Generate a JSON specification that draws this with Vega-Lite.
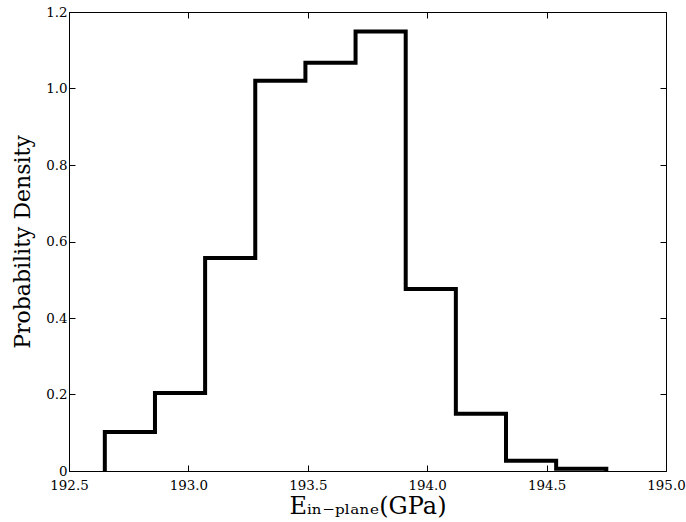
{
  "$schema": "https://vega.github.io/schema/vega-lite/v6.json",
  "autosize": "none",
  "padding": {"left": 69, "top": 12, "right": 20, "bottom": 52},
  "width": 597,
  "height": 459,
  "background": "white",
  "config": {
    "view": {"stroke": null},
    "axis": {"font": "DejaVu Serif", "labelFont": "DejaVu Serif", "titleFont": "DejaVu Serif", "grid": false, "domainColor": "black", "tickColor": "black", "labelColor": "black", "titleColor": "black", "titleFontWeight": "normal", "labelFontSize": 13.4, "titleFontSize": 22, "tickSize": -6, "domainWidth": 1}
  },
  "data": {"values": [
    {"edge": 192.65, "density": 0},
    {"edge": 192.86, "density": 0.102},
    {"edge": 193.07, "density": 0.204},
    {"edge": 193.28, "density": 0.557},
    {"edge": 193.49, "density": 1.02},
    {"edge": 193.70, "density": 1.067},
    {"edge": 193.91, "density": 1.149},
    {"edge": 194.12, "density": 0.476},
    {"edge": 194.33, "density": 0.150},
    {"edge": 194.54, "density": 0.027},
    {"edge": 194.75, "density": 0.006},
    {"edge": 194.75, "density": 0}
  ]},
  "layer": [
    {
      "mark": {"type": "line", "interpolate": "step-before", "color": "black", "strokeWidth": 4, "strokeJoin": "miter", "strokeCap": "butt", "clip": true},
      "encoding": {
        "x": {"field": "edge", "type": "quantitative", "scale": {"domain": [192.5, 195.0], "nice": false, "zero": false},
          "axis": {"orient": "bottom", "values": [192.5, 193.0, 193.5, 194.0, 194.5, 195.0], "format": ".1f", "title": "Eᵢₙ₋ₚₗₐₙₑ(GPa)", "titleFontSize": 24, "labelPadding": 13, "titlePadding": 3, "labelFlush": false}},
        "y": {"field": "density", "type": "quantitative", "scale": {"domain": [0, 1.2], "nice": false},
          "axis": {"orient": "left", "values": [0, 0.2, 0.4, 0.6, 0.8, 1.0, 1.2], "labelExpr": "datum.value == 0 ? '0' : format(datum.value, '.1f')", "title": "Probability Density", "labelPadding": 8, "titlePadding": 11, "labelFlush": false}}
      }
    },
    {
      "mark": {"type": "line", "opacity": 0},
      "encoding": {
        "x": {"field": "edge", "type": "quantitative", "scale": {"domain": [192.5, 195.0], "nice": false, "zero": false},
          "axis": {"orient": "top", "values": [192.5, 193.0, 193.5, 194.0, 194.5, 195.0], "labels": false, "title": null}},
        "y": {"field": "density", "type": "quantitative", "scale": {"domain": [0, 1.2], "nice": false},
          "axis": {"orient": "right", "values": [0, 0.2, 0.4, 0.6, 0.8, 1.0, 1.2], "labels": false, "title": null}}
      }
    }
  ],
  "resolve": {"axis": {"x": "independent", "y": "independent"}}
}
